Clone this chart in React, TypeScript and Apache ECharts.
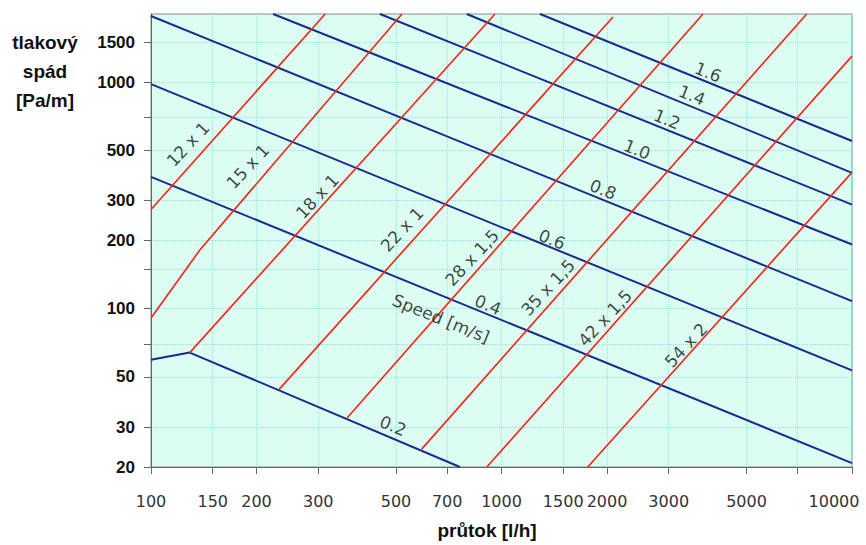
import React, { useEffect, useRef } from "react";
import * as echarts from "echarts";

// Axis ticks / labels (flow l/h, pressure drop Pa/m)
const xTickValues = [100, 150, 200, 300, 500, 700, 1000, 1500, 2000, 3000, 5000, 7000, 10000];
const xLabelValues = [100, 150, 200, 300, 500, 700, 1000, 1500, 2000, 3000, 5000, 10000];
const yTickValues = [20, 30, 50, 70, 100, 150, 200, 300, 500, 700, 1000, 1500];
const yLabelValues = [20, 30, 50, 100, 200, 300, 500, 1000, 1500];
const xMin = 100;
const xMax = 10000;
const yMin = 20;
const yMax = 2000;

// Pipe lines (red): [flow l/h, pressure drop Pa/m]
const pipeNames = ["12 x 1", "15 x 1", "18 x 1", "22 x 1", "28 x 1,5", "35 x 1,5", "42 x 1,5", "54 x 2"];
const pipe12 = [[100, 274], [314, 2000]];
const pipe15 = [[100, 91], [138, 182], [520, 2000]];
const pipe18 = [[129, 64], [958, 2000]];
const pipe22 = [[232, 44], [2080, 1939]];
const pipe28 = [[363, 33], [3757, 2000]];
const pipe35 = [[592, 24], [7428, 2000]];
const pipe42 = [[908, 20], [10000, 1304]];
const pipe54 = [[1762, 20], [10000, 400]];
const pipes = [pipe12, pipe15, pipe18, pipe22, pipe28, pipe35, pipe42, pipe54];
const pipeLabelAt = [[127.5, 532], [189, 425], [298, 313], [520, 224], [824, 168], [1357, 124], [1974, 91], [3361, 69]];

// Speed lines (blue)
const speedNames = ["0.2", "0.4", "0.6", "0.8", "1.0", "1.2", "1.4", "1.6"];
const speed02 = [[100, 59.5], [129, 64], [761, 20]];
const speed04 = [[100, 382], [10000, 20.8]];
const speed06 = [[100, 980], [10000, 53.4]];
const speed08 = [[100, 1959], [10000, 108]];
const speed10 = [[223, 2000], [10000, 192]];
const speed12 = [[450, 2000], [10000, 288]];
const speed14 = [[796, 2000], [10000, 398]];
const speed16 = [[1288, 2000], [10000, 550]];
const speeds = [speed02, speed04, speed06, speed08, speed10, speed12, speed14, speed16];
const speedLabelAt = [[490, 30.4], [915, 104], [1393, 202], [1948, 336], [2436, 505], [2966, 686], [3496, 876], [3882, 1107]];
const speedTitle = "Speed [m/s]";
const speedTitleAt = [672, 90.4];

const yTitleLines = ["tlakový", "spád", "[Pa/m]"];
const xTitle = "průtok [l/h]";

const RED = "#f4281c";
const BLUE = "#1b2a8c";
const GRID = "#8ae9d9";
const LABEL_FONT = "'DejaVu Sans', Verdana, sans-serif";
const BOLD_FONT = "'Liberation Sans', Arial, sans-serif";

const lg = (v: number) => Math.log10(v);
const toLog = (pts: number[][]) => pts.map(([q, p]) => [lg(q), lg(p)]);
const fmt = (v: number) => String(Math.round(Math.pow(10, v)));

export default function App() {
  const ref = useRef<HTMLDivElement>(null);

  useEffect(() => {
    if (!ref.current) return;
    const chart = echarts.init(ref.current, undefined, { renderer: "svg" });

    const series: any[] = [];
    speeds.forEach((pts, i) => {
      series.push({
        type: "line",
        name: "v" + speedNames[i],
        data: toLog(pts),
        symbol: "none",
        silent: true,
        lineStyle: { color: BLUE, width: 2 },
        z: 3,
      });
    });
    pipes.forEach((pts, i) => {
      series.push({
        type: "line",
        name: pipeNames[i],
        data: toLog(pts),
        symbol: "none",
        silent: true,
        lineStyle: { color: RED, width: 1.7 },
        z: 4,
      });
    });
    const labelStyle = {
      show: true,
      position: "inside",
      fontFamily: LABEL_FONT,
      fontSize: 17,
      color: "#141414",
      formatter: (p: any) => p.data.name,
    };
    series.push({
      type: "scatter",
      silent: true,
      symbolSize: 1,
      itemStyle: { color: "rgba(0,0,0,0)" },
      label: { ...labelStyle, rotate: 47 },
      data: pipeLabelAt.map((pt, i) => ({ value: [lg(pt[0]), lg(pt[1])], name: pipeNames[i] })),
      z: 6,
    });
    series.push({
      type: "scatter",
      silent: true,
      symbolSize: 1,
      itemStyle: { color: "rgba(0,0,0,0)" },
      label: { ...labelStyle, rotate: -22 },
      data: [
        ...speedLabelAt.map((pt, i) => ({ value: [lg(pt[0]), lg(pt[1])], name: speedNames[i] })),
        { value: [lg(speedTitleAt[0]), lg(speedTitleAt[1])], name: speedTitle },
      ],
      z: 6,
    });

    chart.setOption({
      animation: false,
      grid: {
        left: 151,
        right: 14,
        top: 14,
        bottom: 78,
        show: true,
        backgroundColor: "#dcfdf1",
        borderColor: "#8a8a8a",
        borderWidth: 1,
      },
      xAxis: {
        type: "value",
        min: lg(xMin),
        max: lg(xMax),
        axisLine: { show: true, lineStyle: { color: "#666" } },
        axisTick: {
          show: true,
          length: 7,
          lineStyle: { color: "#666" },
          customValues: xTickValues.map(lg),
        },
        axisLabel: {
          customValues: xLabelValues.map(lg),
          margin: 26,
          fontFamily: LABEL_FONT,
          fontSize: 16,
          color: "#333",
          formatter: (v: number) => (v > 3.99 ? "{r|" + fmt(v) + "}" : fmt(v)),
          rich: {
            r: { fontFamily: LABEL_FONT, fontSize: 16, color: "#333", padding: [0, 36, 0, 0] },
          },
        },
        splitLine: { show: true, lineStyle: { color: GRID, type: "dotted", width: 1 } },
      },
      yAxis: {
        type: "value",
        min: lg(yMin),
        max: lg(yMax),
        axisLine: { show: true, lineStyle: { color: "#666" } },
        axisTick: {
          show: true,
          length: 7,
          lineStyle: { color: "#666" },
          customValues: yTickValues.map(lg),
        },
        axisLabel: {
          customValues: yLabelValues.map(lg),
          margin: 16,
          fontFamily: BOLD_FONT,
          fontWeight: "bold",
          fontSize: 17,
          color: "#111",
          formatter: (v: number) => fmt(v),
        },
        splitLine: { show: true, lineStyle: { color: GRID, type: "dotted", width: 1 } },
      },
      graphic: [
        ...yTitleLines.map((t, i) => ({
          type: "text",
          x: 45,
          y: 42 + i * 29,
          style: {
            text: t,
            fontFamily: BOLD_FONT,
            fontWeight: "bold",
            fontSize: 19,
            fill: "#111",
            align: "center",
            verticalAlign: "middle",
          },
        })),
        {
          type: "text",
          x: 487,
          y: 530,
          style: {
            text: xTitle,
            fontFamily: BOLD_FONT,
            fontWeight: "bold",
            fontSize: 19,
            fill: "#111",
            align: "center",
            verticalAlign: "middle",
          },
        },
      ],
      series,
    });

    return () => chart.dispose();
  }, []);

  return (
    <div
      ref={ref}
      style={{ position: "absolute", left: 0, top: 0, width: 866, height: 545, background: "#fff" }}
    />
  );
}
